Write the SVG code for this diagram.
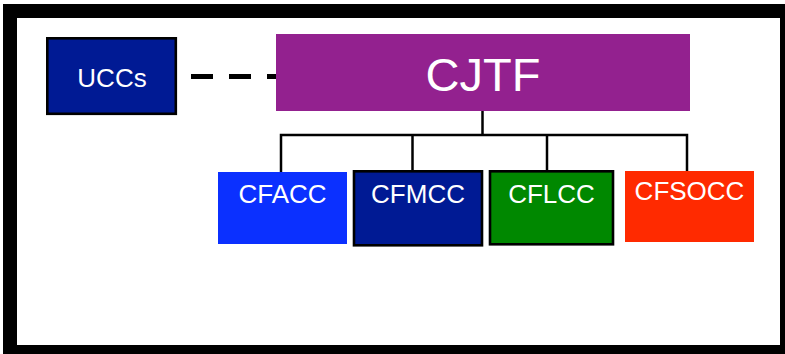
<svg xmlns="http://www.w3.org/2000/svg" width="785" height="354" viewBox="0 0 785 354">
  <style>
    .label { font-family: "Liberation Sans", Arial, sans-serif; fill: #ffffff; text-anchor: middle; }
    .edge { fill: none; stroke: #000000; stroke-width: 2.5; }
    .boxed { stroke: #000000; stroke-width: 2.6; }
  </style>

  <!-- heavy black frame -->
  <rect x="3" y="4" width="782" height="350" fill="#000000"/>
  <rect x="17" y="18" width="763" height="327" fill="#ffffff"/>

  <!-- connectors -->
  <g id="connectors">
    <line x1="191" y1="76.5" x2="277" y2="76.5" stroke="#000000" stroke-width="5" stroke-dasharray="22 16"/>
    <path class="edge" d="M482.5 111 V135"/>
    <path class="edge" d="M281 172 V135 H687 V171"/>
    <path class="edge" d="M412.5 135 V171"/>
    <path class="edge" d="M547 135 V171"/>
  </g>

  <g id="node-uccs">
    <rect class="boxed" x="47.3" y="38.3" width="128.5" height="75.5" fill="#001A94"/>
    <text class="label" x="112" y="87" font-size="26">UCCs</text>
  </g>

  <g id="node-cjtf">
    <rect x="276" y="34" width="414" height="77" fill="#93218F"/>
    <text class="label" x="483" y="91" font-size="47">CJTF</text>
  </g>

  <g id="node-cfacc">
    <rect x="218" y="172" width="129" height="72" fill="#0B30FF"/>
    <text class="label" x="282.5" y="202.5" font-size="26">CFACC</text>
  </g>

  <g id="node-cfmcc">
    <rect class="boxed" x="354" y="171.3" width="128" height="74" fill="#001A94"/>
    <text class="label" x="418" y="202.5" font-size="26">CFMCC</text>
  </g>

  <g id="node-cflcc">
    <rect class="boxed" x="490" y="171.3" width="123" height="73" fill="#008800"/>
    <text class="label" x="551.5" y="202.5" font-size="26">CFLCC</text>
  </g>

  <g id="node-cfsocc">
    <rect x="625" y="171" width="129" height="71" fill="#FF2A00"/>
    <text class="label" x="689.5" y="199.5" font-size="26">CFSOCC</text>
  </g>
</svg>
